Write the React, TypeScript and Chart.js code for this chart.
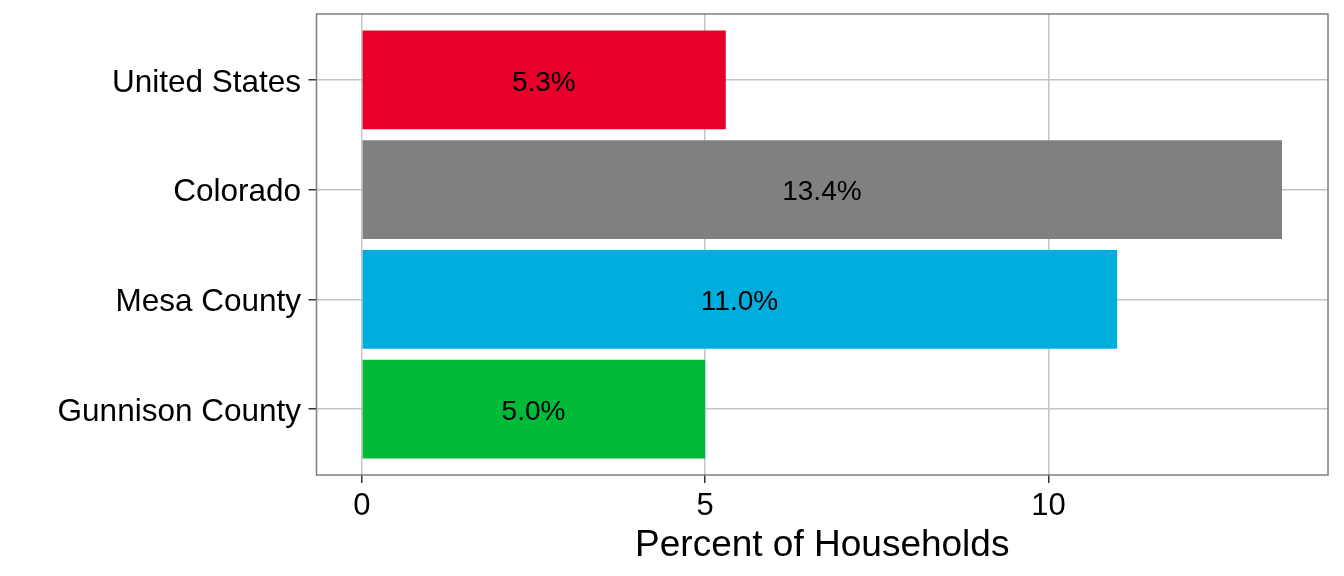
import React, { useEffect, useRef } from "react";
import { Chart, registerables } from "chart.js";

Chart.register(...registerables);

const categories = ["United States", "Colorado", "Mesa County", "Gunnison County"];
const values = [5.3, 13.4, 11.0, 5.0];
const barColors = ["#E8002A", "#808080", "#00AEDE", "#00BA38"];
const xTicks = [0, 5, 10];
const xTitle = "Percent of Households";

const FONT = "'Liberation Sans', Arial, sans-serif";

const labelPlugin = {
  id: "barLabels",
  afterDatasetsDraw(chart: any) {
    const ctx = chart.ctx;
    const meta = chart.getDatasetMeta(0);
    const xs = chart.scales.x;
    const ys = chart.scales.y;
    ctx.save();
    ctx.font = `28px ${FONT}`;
    ctx.fillStyle = "#000000";
    ctx.textAlign = "center";
    ctx.textBaseline = "middle";
    meta.data.forEach((el: any, i: number) => {
      const v = values[i];
      ctx.fillText(v.toFixed(1) + "%", xs.getPixelForValue(v / 2), el.y + 3);
    });
    // category labels
    ctx.font = `31.5px ${FONT}`;
    ctx.textAlign = "right";
    categories.forEach((c, i) => {
      ctx.fillText(c, ys.left + ys.width - 15.5, ys.getPixelForValue(i) + 3);
    });
    ctx.restore();
  },
  afterDraw(chart: any) {
    const { left, right, top, bottom } = chart.chartArea;
    const ctx = chart.ctx;
    ctx.save();
    ctx.strokeStyle = "#7F7F7F";
    ctx.lineWidth = 1.5;
    ctx.strokeRect(left, top, right - left, bottom - top);
    ctx.restore();
  },
};

export default function App() {
  const ref = useRef<HTMLCanvasElement | null>(null);
  useEffect(() => {
    if (!ref.current) return;
    const chart = new Chart(ref.current, {
      type: "bar",
      data: {
        datasets: [
          {
            data: values.map((v, i) => ({ x: v, y: i })),
            backgroundColor: barColors,
            borderWidth: 0,
            barPercentage: 0.9,
            categoryPercentage: 1.0,
          },
        ],
      },
      options: {
        indexAxis: "y",
        animation: false,
        responsive: false,
        maintainAspectRatio: false,
        layout: { padding: { top: 14, right: 16, left: 0, bottom: 0 } },
        plugins: { legend: { display: false }, tooltip: { enabled: false } },
        scales: {
          x: {
            type: "linear",
            min: -0.66,
            max: 14.07,
            afterBuildTicks: (s: any) => {
              s.ticks = xTicks.map((v) => ({ value: v }));
            },
            afterFit: (s: any) => {
              s.height = 101;
              s.paddingLeft = 0;
              s.paddingRight = 0;
            },
            border: { display: false },
            grid: {
              color: "#C4C4C4",
              lineWidth: 1.5,
              tickColor: "#333333",
              tickLength: 8,
            },
            ticks: {
              color: "#000000",
              font: { family: FONT, size: 31 },
              padding: 5,
              maxRotation: 0,
            },
            title: {
              display: true,
              text: xTitle,
              color: "#000000",
              font: { family: FONT, size: 37 },
              padding: { top: 0, bottom: 8 },
            },
          },
          y: {
            type: "linear",
            reverse: true,
            min: -0.6,
            max: 3.6,
            offset: false,
            afterBuildTicks: (s: any) => {
              s.ticks = categories.map((_, i) => ({ value: i }));
            },
            afterFit: (s: any) => {
              s.width = 316.5;
              s.paddingTop = 0;
              s.paddingBottom = 0;
            },
            border: { display: false },
            grid: {
              offset: false,
              color: "#C4C4C4",
              lineWidth: 1.5,
              tickColor: "#333333",
              tickLength: 8,
            },
            ticks: {
              color: "rgba(0,0,0,0)",
              font: { family: FONT, size: 31 },
              padding: 7,
              callback: (v: any) => categories[Math.round(Number(v))] ?? "",
            },
          },
        },
      },
      plugins: [labelPlugin],
    } as any);
    return () => chart.destroy();
  }, []);
  return (
    <div style={{ position: "fixed", left: 0, top: 0, width: 1344, height: 576, background: "#fff" }}>
      <canvas ref={ref} width={1344} height={576} style={{ width: 1344, height: 576 }} />
    </div>
  );
}
